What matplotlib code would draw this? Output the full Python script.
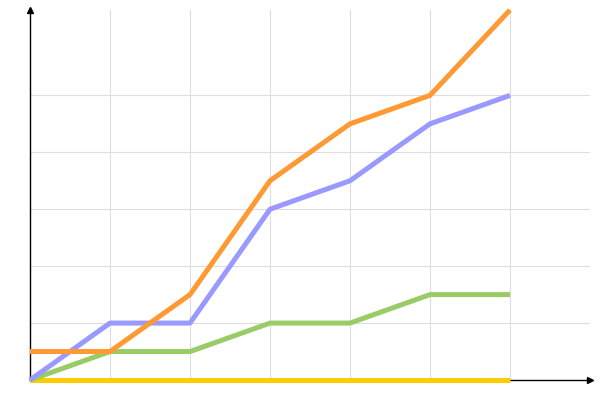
import numpy as np
import matplotlib
matplotlib.use("Agg")
import matplotlib.pyplot as plt

# data
x = [0, 1, 2, 3, 4, 5, 6]
orange = [1, 1, 3, 7, 9, 10, 13]
blue = [0, 2, 2, 6, 7, 9, 10]
green = [0, 1, 1, 2, 2, 3, 3]
yellow = [0, 0, 0, 0, 0, 0, 0]
xgrid = [1, 2, 3, 4, 5, 6]
ygrid = [2, 4, 6, 8, 10]

fig = plt.figure(figsize=(6, 4), dpi=100)
ax = fig.add_axes([30/600, 20/400, 560/600, 370/400])
ax.set_xlim(0, 7)
ax.set_ylim(0, 13)

for gx in xgrid:
	ax.plot([gx, gx], [0, 13], color="#dddddd", lw=0.8, zorder=1)
for gy in ygrid:
	ax.plot([0, 7], [gy, gy], color="#dddddd", lw=0.8, zorder=1)

lw = 3.6
ax.plot(x, yellow, color="#ffcc00", lw=lw, solid_capstyle="butt", zorder=3, clip_on=False)
ax.plot(x, green, color="#99cc66", lw=lw, solid_capstyle="butt", zorder=3, clip_on=False)
ax.plot(x, blue, color="#9999ff", lw=lw, solid_capstyle="butt", zorder=3, clip_on=False)
ax.plot(x, orange, color="#ff9933", lw=lw, solid_capstyle="butt", zorder=3, clip_on=False)

# axis lines with small arrowheads
ax.plot([0, 7], [0, 0], color="black", lw=1, zorder=2, clip_on=False)
ax.plot([0, 0], [0, 13], color="black", lw=1, zorder=2, clip_on=False)
ax.plot([7], [0], marker=">", color="black", ms=4, clip_on=False, zorder=4)
ax.plot([0], [13], marker="^", color="black", ms=4, clip_on=False, zorder=4)

for s in ax.spines.values():
	s.set_visible(False)
ax.set_xticks([])
ax.set_yticks([])

fig.savefig("out.png", dpi=100)
